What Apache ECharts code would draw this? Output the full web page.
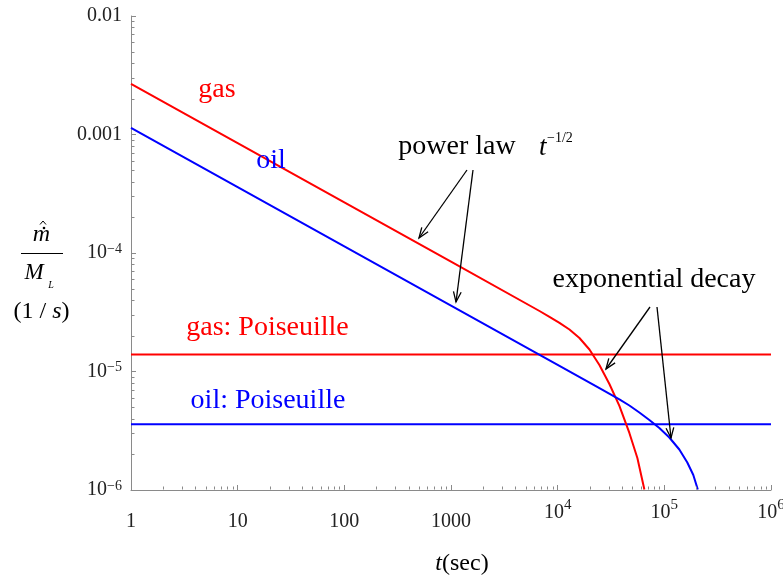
<!DOCTYPE html>
<html><head><meta charset="utf-8">
<script src="https://cdn.jsdelivr.net/npm/echarts@6/dist/echarts.min.js"></script>
<style>html,body{margin:0;padding:0;background:#fff}#c{width:783px;height:586px}</style>
</head><body><div id="c"></div>
<script>
// ---- data ----
const gasT = [1, 10, 100, 1000, 6754, 8381, 10397, 12897, 16000, 19857, 24628, 30549, 37902, 47018, 55876, 65000];
const gasM = [2.67e-3, 8.44e-4, 2.67e-4, 8.44e-5, 3.24e-5, 2.894e-5, 2.576e-5, 2.262e-5, 1.918e-5, 1.534e-5, 1.135e-5, 7.84e-6, 5.12e-6, 3.03e-6, 1.862e-6, 1.01e-6];
const oilT = [1, 10, 100, 1000, 10000, 24628, 37902, 47018, 58330, 72370, 89800, 111400, 138200, 164200, 186900, 205900];
const oilM = [1.135e-3, 3.59e-4, 1.135e-4, 3.59e-5, 1.135e-5, 7.23e-6, 5.815e-6, 5.165e-6, 4.508e-6, 3.897e-6, 3.335e-6, 2.773e-6, 2.197e-6, 1.707e-6, 1.338e-6, 1.01e-6];
const poiseT = [1, 1e6];
const gasPoise = [1.39e-5, 1.39e-5];
const oilPoise = [3.58e-6, 3.58e-6];
const xTickLabels = ['{p|1}', '{p|10}', '{p|100}', '{p|1000}', '{b|10}{s|4}', '{b|10}{s|5}', '{b|10}{s|6}']; // exponents 0..6
const yTickLabels = ['{b|10}{s|\u22126}', '{b|10}{s|\u22125}', '{b|10}{s|\u22124}', '{b|0.001}', '{b|0.01}']; // exponents -6..-2
const yExpMin = -6;

const FF = "'Liberation Serif','Times New Roman',serif";
const zip = (a, b) => a.map((v, i) => [v, b[i]]);

const option = {
  animation: false,
  backgroundColor: '#fff',
  grid: { left: 131, top: 16, width: 640, height: 474, containLabel: false, outerBoundsMode: 'none' },
  xAxis: {
    type: 'log', logBase: 10, min: 1, max: 1e6, splitNumber: 6,
    axisLine: { show: true, lineStyle: { color: '#8a8a8a', width: 1 } },
    axisTick: { show: true, inside: true, length: 5, lineStyle: { color: '#8a8a8a' } },
    splitLine: { show: false },
    axisLabel: {
      showMinLabel: true, showMaxLabel: true, margin: 8, color: '#222',
      fontFamily: FF, fontSize: 20,
      formatter: v => xTickLabels[Math.round(Math.log10(v))] || '',
      rich: {
        p: { fontFamily: FF, fontSize: 20, lineHeight: 20, padding: [14, 0, 0, 0], verticalAlign: 'top', color: '#222' },
        b: { fontFamily: FF, fontSize: 20, lineHeight: 20, padding: [5, 0, 0, 0], verticalAlign: 'top', color: '#222' },
        s: { fontFamily: FF, fontSize: 15, lineHeight: 15, verticalAlign: 'top', color: '#222' }
      }
    }
  },
  yAxis: {
    type: 'log', logBase: 10, min: 1e-6, max: 1e-2, splitNumber: 4,
    axisLine: { show: true, lineStyle: { color: '#8a8a8a', width: 1 } },
    axisTick: { show: true, inside: true, length: 5, lineStyle: { color: '#8a8a8a' } },
    splitLine: { show: false },
    axisLabel: {
      showMinLabel: true, showMaxLabel: true, margin: 9, color: '#222',
      fontFamily: FF, fontSize: 20,
      formatter: v => yTickLabels[Math.round(Math.log10(v)) - yExpMin] || '',
      rich: {
        b: { fontFamily: FF, fontSize: 20, lineHeight: 22, verticalAlign: 'middle', color: '#222' },
        s: { fontFamily: FF, fontSize: 14, lineHeight: 14, verticalAlign: 'top', color: '#222' }
      }
    }
  },
  series: [
    { name: 'gas: Poiseuille', type: 'line', data: zip(poiseT, gasPoise), showSymbol: false, lineStyle: { color: '#ff0000', width: 2 }, itemStyle: { color: '#ff0000' } },
    { name: 'oil: Poiseuille', type: 'line', data: zip(poiseT, oilPoise), showSymbol: false, lineStyle: { color: '#0000ff', width: 2 }, itemStyle: { color: '#0000ff' } },
    { name: 'gas', type: 'line', data: zip(gasT, gasM), showSymbol: false, smooth: false, lineStyle: { color: '#ff0000', width: 2, join: 'round' }, itemStyle: { color: '#ff0000' } },
    { name: 'oil', type: 'line', data: zip(oilT, oilM), showSymbol: false, smooth: false, lineStyle: { color: '#0000ff', width: 2, join: 'round' }, itemStyle: { color: '#0000ff' } }
  ]
};

const chart = echarts.init(document.getElementById('c'), null, { renderer: 'canvas' });
chart.setOption(option);

const g = [];
// minor ticks through the axis scales
const axY = Math.round(chart.convertToPixel({ yAxisIndex: 0 }, 1e-6)) - 0.5;
const axX = Math.round(chart.convertToPixel({ xAxisIndex: 0 }, 1)) + 0.5;
for (let d = 0; d < 6; d++) for (let k = 2; k <= 9; k++) {
  const px = Math.round(chart.convertToPixel({ xAxisIndex: 0 }, k * Math.pow(10, d))) + 0.5;
  g.push({ type: 'line', z: 50, shape: { x1: px, y1: axY, x2: px, y2: axY - 3 }, style: { stroke: '#8a8a8a', lineWidth: 1 } });
}
for (let d = -6; d < -2; d++) for (let k = 2; k <= 9; k++) {
  const py = Math.round(chart.convertToPixel({ yAxisIndex: 0 }, k * Math.pow(10, d))) + 0.5;
  g.push({ type: 'line', z: 50, shape: { x1: axX, y1: py, x2: axX + 3, y2: py }, style: { stroke: '#8a8a8a', lineWidth: 1 } });
}

function txt(text, x, y, size, color, opts) {
  opts = opts || {};
  return { type: 'text', z: 100, x: x, y: y, style: Object.assign({ text: text, fill: color, fontSize: size, fontFamily: FF, align: 'center', verticalAlign: 'middle' }, opts) };
}
function arrow(x1, y1, x2, y2) {
  const a = Math.atan2(y2 - y1, x2 - x1), L = 11, w = 0.36;
  return [
    { type: 'line', z: 100, shape: { x1: x1, y1: y1, x2: x2, y2: y2 }, style: { stroke: '#000', lineWidth: 1.3 } },
    { type: 'polyline', z: 100, shape: { points: [[x2 - L * Math.cos(a - w), y2 - L * Math.sin(a - w)], [x2, y2], [x2 - L * Math.cos(a + w), y2 - L * Math.sin(a + w)]] }, style: { stroke: '#000', lineWidth: 1.3, fill: null } }
  ];
}

// annotations
g.push(txt('gas', 217, 89.5, 28, '#ff0000'));
g.push(txt('oil', 271, 160.5, 28, '#0000ff'));
g.push(txt('power law', 457, 146.5, 28, '#000'));
g.push(txt('t', 539, 148, 27, '#000', { align: 'left', fontStyle: 'italic' }));
g.push(txt('\u22121/2', 547, 138, 14, '#000', { align: 'left' }));
g.push(txt('exponential decay', 654, 279.5, 28, '#000'));
g.push(txt('gas: Poiseuille', 267.5, 327.5, 28, '#ff0000'));
g.push(txt('oil: Poiseuille', 268, 400.5, 28, '#0000ff'));
g.push(...arrow(467, 170, 419, 238));
g.push(...arrow(473, 170, 456, 302));
g.push(...arrow(650, 307, 606, 369));
g.push(...arrow(657, 307, 671, 438));

// y-axis title
g.push(txt('m', 41.5, 235, 24, '#000', { fontStyle: 'italic' }));
g.push({ type: 'polyline', z: 100, shape: { points: [[40, 224.5], [43, 221], [46, 224.5]] }, style: { stroke: '#000', lineWidth: 1, fill: null } });
g.push({ type: 'circle', z: 100, shape: { cx: 44, cy: 228, r: 1.3 }, style: { fill: '#000' } });
g.push({ type: 'line', z: 100, shape: { x1: 21, y1: 253.5, x2: 63, y2: 253.5 }, style: { stroke: '#000', lineWidth: 1 } });
g.push(txt('M', 34, 273, 23, '#000', { fontStyle: 'italic' }));
g.push(txt('L', 51, 285, 10, '#000', { fontStyle: 'italic' }));
g.push(txt('(1 / {i|s})', 41.5, 312, 24, '#000', { rich: { i: { fontStyle: 'italic', fontSize: 24, fontFamily: FF, fill: '#000' } } }));
// x-axis title
g.push(txt('{i|t}(sec)', 462, 564, 24, '#000', { rich: { i: { fontStyle: 'italic', fontSize: 24, fontFamily: FF, fill: '#000' } } }));

chart.setOption({ graphic: { elements: g } });
</script>
</body></html>
